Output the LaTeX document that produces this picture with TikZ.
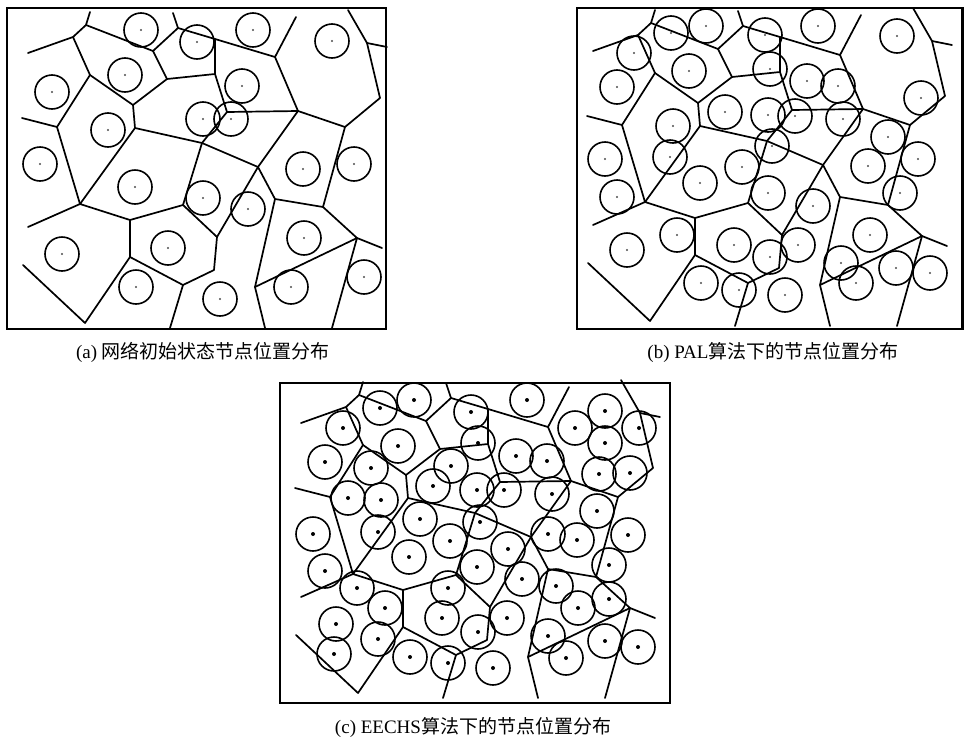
\documentclass[tikz,border=0pt]{standalone}
\usepackage{fontspec}
\setmainfont{Liberation Serif}
\newfontfamily\cjk{Noto Sans CJK SC}
\tikzset{
  vline/.style={line width=1.7pt, line join=round, line cap=round},
  nodecirc/.style={line width=1.6pt},
  panelframe/.style={line width=2.4pt},
  caption/.style={font=\fontsize{19}{22}\selectfont, inner sep=0pt}
}
\newcommand\vorlines{%
  \coordinate (A1) at (28,53);
  \coordinate (V1) at (73,37);
  \coordinate (V2) at (86,25);
  \coordinate (E2) at (90,12);
  \coordinate (V3) at (153,51);
  \coordinate (V4) at (178,28);
  \coordinate (E4) at (173,13);
  \coordinate (V5) at (215,39);
  \coordinate (V6) at (275,57);
  \coordinate (E6) at (296,17);
  \coordinate (V7) at (167,79);
  \coordinate (V8) at (215,74);
  \coordinate (V9) at (90,75);
  \coordinate (V10) at (133,105);
  \coordinate (V11) at (135,128);
  \coordinate (V12) at (57,127);
  \coordinate (E12) at (22,118);
  \coordinate (V13) at (80,204);
  \coordinate (E13) at (28,227);
  \coordinate (V14) at (130,220);
  \coordinate (V15) at (183,205);
  \coordinate (V16) at (202,143);
  \coordinate (V17) at (227,112);
  \coordinate (V18) at (298,111);
  \coordinate (V19) at (258,167);
  \coordinate (V20) at (217,237);
  \coordinate (V21) at (214,270);
  \coordinate (V22) at (183,285);
  \coordinate (E22) at (170,328);
  \coordinate (V23) at (130,257);
  \coordinate (V24) at (85,323);
  \coordinate (E24) at (23,265);
  \coordinate (V25) at (275,199);
  \coordinate (V26) at (323,207);
  \coordinate (V27) at (345,127);
  \coordinate (V28) at (380,98);
  \coordinate (V29) at (367,43);
  \coordinate (E29a) at (348,10);
  \coordinate (E29b) at (387,47);
  \coordinate (V30) at (255,287);
  \coordinate (E30) at (265,328);
  \coordinate (V31) at (357,238);
  \coordinate (E31a) at (382,248);
  \coordinate (E31b) at (332,328);
  \draw[vline] (A1)--(V1)--(V2)--(E2);
  \draw[vline] (V2)--(V3)--(V4)--(E4);
  \draw[vline] (V4)--(V5)--(V6)--(E6);
  \draw[vline] (V6)--(V18)--(V17)--(V8)--(V5);
  \draw[vline] (V3)--(V7)--(V8);
  \draw[vline] (V7)--(V10)--(V9)--(V1);
  \draw[vline] (V10)--(V11)--(V16)--(V19)--(V18);
  \draw[vline] (V17)--(V16)--(V15)--(V14)--(V13)--(V11);
  \draw[vline] (V9)--(V12)--(E12);
  \draw[vline] (V12)--(V13)--(E13);
  \draw[vline] (V15)--(V20)--(V19);
  \draw[vline] (V20)--(V21)--(V22)--(V23)--(V14);
  \draw[vline] (V22)--(E22);
  \draw[vline] (E24)--(V24)--(V23);
  \draw[vline] (V19)--(V25)--(V26)--(V27)--(V18);
  \draw[vline] (V27)--(V28)--(V29)--(E29a);
  \draw[vline] (V29)--(E29b);
  \draw[vline] (V25)--(V30)--(E30);
  \draw[vline] (V30)--(V31)--(V26);
  \draw[vline] (E31a)--(V31)--(E31b);
}
\begin{document}
\begin{tikzpicture}[x=1pt,y=-1pt]
\useasboundingbox (0,0) rectangle (964,742);
% ---------- panel (a)
\begin{scope}\vorlines\end{scope}
\foreach \cx/\cy in {141/30,197/42,253/30,332/41,125/75,242/86,52/92,108/130,203/119,231/119,40/164,135/187,303/169,354/164,203/198,248/209,62/254,168/248,304/238,136/287,220/299,291/287,364/277}{
  \draw[nodecirc] (\cx,\cy) circle[radius=17];
  \fill[black!70] (\cx,\cy) circle[radius=1.2];
}
\draw[panelframe] (7,8) rectangle (386,329);
\node[caption] (capa) at (203,352) {(a) {\cjk 网络初始状态节点位置分布}};
% ---------- panel (b)
\begin{scope}[shift={(565,-2)}]\vorlines\end{scope}
\foreach \cx/\cy in {706/26,671/33,634/53,765/35,617/87,689/71,770/69,725/112,768/115,673/126,772/146,605/159,670/157,742/167,700/183,617/197,768/193,677/235,627/250,734/245,770/257,701/283,739/290,785/295,818/26,897/36,807/81,838/86,921/98,795/116,843/119,888/137,918/159,868/166,900/193,813/206,870/235,798/245,841/263,856/283,896/268,930/273}{
  \draw[nodecirc] (\cx,\cy) circle[radius=17];
  \fill[black!70] (\cx,\cy) circle[radius=1.2];
}
\draw[panelframe] (577,8) rectangle (962.5,329);
\node[caption] (capb) at (773,352) {(b) PAL{\cjk 算法下的节点位置分布}};
% ---------- panel (c)
\begin{scope}[shift={(273,370)}]\vorlines\end{scope}
\foreach \cx/\cy in {414/400,380/408,343/428,398/446,325/462,371/468,451/466,433/486,348/498,381/500,420/519,313/534,378/532,450/541,527/400,471/412,605/411,575/428,639/428,478/443,605/443,516/456,547/461,599/474,630/473,477/490,504/490,552/494,597/511,480/522,548/534,577/540,628/535,409/557,325/571,357/588,448/588,385/608,442/618,336/624,378/639,334/654,410/657,448/663,508/549,477/567,609/565,522/579,556/586,609/599,578/608,507/618,478/632,548/636,605/641,638/647,566/658,493/668}{
  \draw[nodecirc] (\cx,\cy) circle[radius=17];
  \fill (\cx,\cy) circle[radius=2];
}
\draw[panelframe] (280,383) rectangle (670,703);
\node[caption] (capc) at (473,727) {(c) EECHS{\cjk 算法下的节点位置分布}};
\end{tikzpicture}
\end{document}
